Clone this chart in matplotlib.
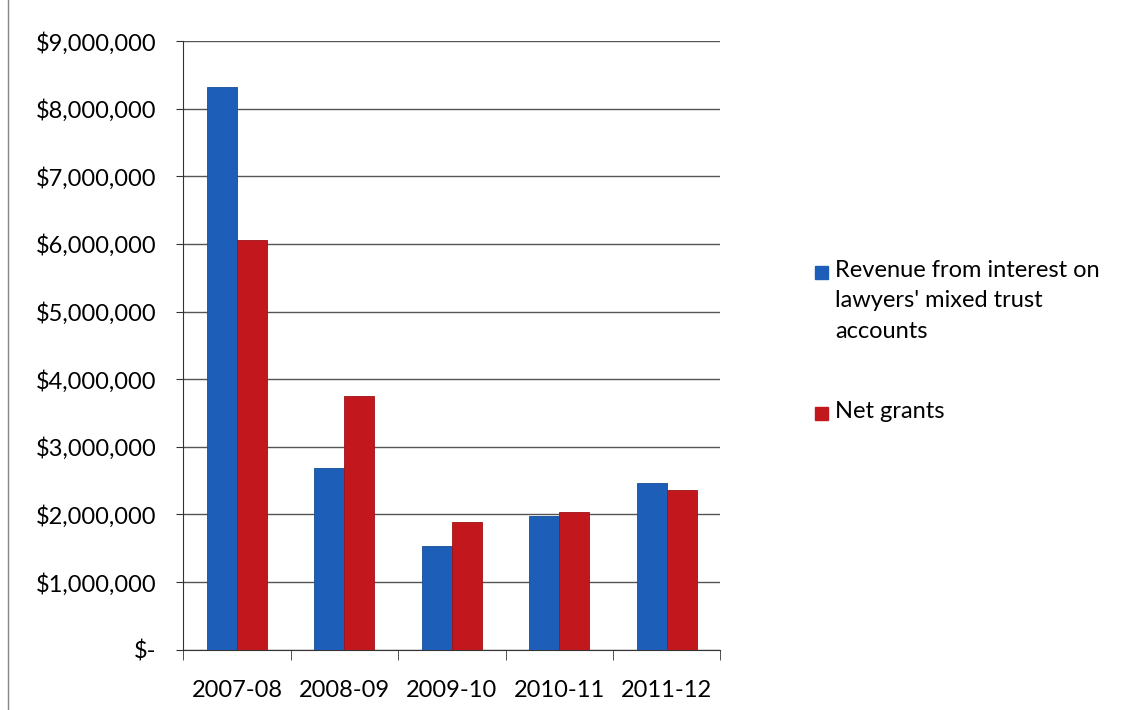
import numpy as np
import matplotlib.pyplot as plt
from matplotlib.patches import Rectangle
from matplotlib.ticker import FuncFormatter

years = ["2007-08", "2008-09", "2009-10", "2010-11", "2011-12"]
revenue = [8320000, 2690000, 1540000, 1980000, 2470000]
net_grants = [6060000, 3750000, 1890000, 2040000, 2360000]
series_names = ["Revenue from interest on\nlawyers' mixed trust\naccounts", "Net grants"]
colors = ["#1d5fb8", "#c2181d"]

plt.rcParams['font.family'] = ['Lato', 'DejaVu Sans']

fig = plt.figure(figsize=(11.24, 7.10), dpi=100)
ax = fig.add_axes([0.163, 0.085, 0.478, 0.857])

x = np.arange(len(years))
w = 0.28
ax.bar(x - w/2, revenue, w, color=colors[0], edgecolor="#164c96", linewidth=0.6, zorder=3)
ax.bar(x + w/2, net_grants, w, color=colors[1], edgecolor="#9e1215", linewidth=0.6, zorder=3)

ax.set_xlim(-0.5, len(years) - 0.5)
ax.set_ylim(0, 9000000)
ax.set_yticks(np.arange(0, 9000001, 1000000))
ax.yaxis.set_major_formatter(FuncFormatter(lambda v, p: "$-" if v == 0 else f"${v:,.0f}"))
ax.set_xticks(x)
ax.set_xticklabels(years)
ax.set_xticks(np.arange(-0.5, len(years)), minor=True)
ax.tick_params(axis="x", which="major", length=0, pad=22, labelsize=17)
ax.tick_params(axis="x", which="minor", length=7, color="#333333")
ax.tick_params(axis="y", length=5, color="#333333", labelsize=17, pad=14)
ax.yaxis.grid(True, color="#555555", linewidth=1.0, zorder=0)
for s in ["top", "right"]:
    ax.spines[s].set_visible(False)
ax.spines["left"].set_color("#333333")
ax.spines["bottom"].set_color("#333333")

# legend drawn by hand so the marker sits on the first text line
W, H = 1124, 710
legend_rows = [272, 413]
for name, c, yc in zip(series_names, colors, legend_rows):
    fig.add_artist(Rectangle((815 / W, (H - yc - 6.5) / H), 13 / W, 13 / H,
                             transform=fig.transFigure, color=c))
    fig.text(835 / W, (H - yc + 12) / H, name, fontsize=17, va="top", ha="left",
             linespacing=1.55)

fig.add_artist(plt.Line2D([0.007, 0.007], [0.0, 1.0], color="#888888", linewidth=1))

fig.savefig("out.png", dpi=100)
